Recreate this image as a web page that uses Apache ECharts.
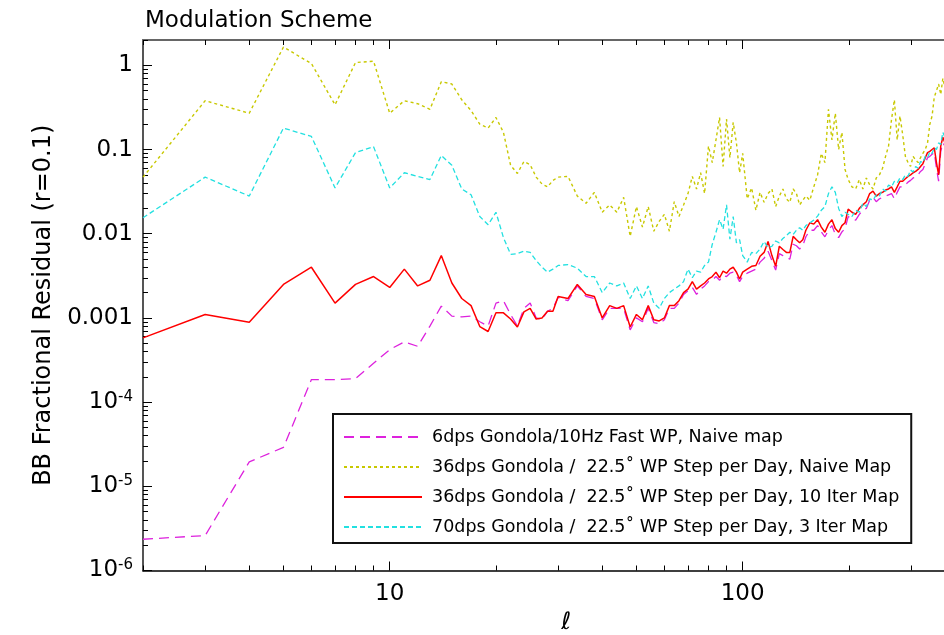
<!DOCTYPE html>
<html><head><meta charset="utf-8">
<script src="https://cdn.jsdelivr.net/npm/echarts@6/dist/echarts.min.js"></script>
<style>html,body{margin:0;padding:0;background:#fff}#c{width:944px;height:635px}</style>
</head><body><div id="c"></div>
<script>
// multipole ell grid
const ells = [2,3,4,5,6,7,8,9,10,11,12,13,14,15,16,17,18,19,20,21,22,23,24,25,26,27,28,29,30,
  32,34,36,38,40,42,44,46,48,50,52,54,56,58,60,
  62,64,66,68,70,72,74,76,78,80,82,84,86,88,90,92,94,96,98,100,
  103,106,109,112,115,118,121,124,127,130,133,136,139,142,145,148,151,
  155,159,163,167,171,175,179,183,187,191,195,199,
  204,209,214,219,224,229,234,239,244,249,254,259,264,269,274,279,284,289,294,299,
  304,309,314,319,324,329,334,339,344,349,354,359,364,369,374,379];

// 6dps Gondola / 10Hz Fast WP, Naive map
const fastNaive = [2.35e-6,2.6e-6,1.95e-5,2.9e-5,1.85e-4,1.85e-4,1.9e-4,2.9e-4,4.2e-4,5.2e-4,4.6e-4,8.0e-4,1.38e-3,1.05e-3,1.03e-3,1.05e-3,9e-4,8e-4,1.5e-3,1.6e-3,1.1e-3,8e-4,1.3e-3,1.5e-3,1.0e-3,9.6e-4,1.2e-3,1.3e-3,1.75e-3,
  0.0016,0.0024,0.0018,0.0017,0.00095,0.0013,0.0013,0.0013,0.00072,0.001,0.0009,0.0013,0.00088,0.00085,0.00095,
  0.0013,0.0013,0.0015,0.0019,0.0021,0.0023,0.0019,0.0022,0.0024,0.0027,0.0028,0.0031,0.0028,0.0032,0.0031,0.0034,0.0035,0.0032,0.0027,0.0031,
  0.0034,0.0036,0.0038,0.0046,0.0051,0.0062,0.0048,0.0037,0.0058,0.0055,0.0052,0.005,0.0075,0.0072,0.0066,0.0072,0.0092,
  0.011,0.011,0.0125,0.0105,0.0092,0.011,0.0125,0.0098,0.009,0.0105,0.0115,0.016,
  0.015,0.0145,0.017,0.019,0.02,0.025,0.027,0.024,0.026,0.027,0.028,0.029,0.03,0.026,0.031,0.036,0.036,0.038,0.041,0.043,
  0.046,0.047,0.05,0.055,0.058,0.068,0.08,0.083,0.088,0.092,0.06,0.042,0.095,0.12,0.11,0.13];

// 36dps Gondola / 22.5 WP Step per Day, Naive Map
const stepNaive = [0.047,0.38,0.27,1.65,1.05,0.34,1.08,1.12,0.27,0.38,0.35,0.30,0.64,0.60,0.39,0.29,0.20,0.18,0.24,0.16,0.065,0.052,0.072,0.066,0.047,0.039,0.036,0.043,0.047,
  0.048,0.028,0.023,0.031,0.018,0.022,0.018,0.027,0.0093,0.021,0.012,0.021,0.0107,0.014,0.017,
  0.0107,0.024,0.016,0.022,0.03,0.048,0.034,0.053,0.03,0.11,0.07,0.13,0.24,0.063,0.23,0.08,0.21,0.12,0.053,0.09,
  0.026,0.035,0.019,0.031,0.0236,0.03,0.034,0.021,0.028,0.034,0.026,0.0236,0.034,0.03,0.022,0.025,0.028,
  0.025,0.036,0.05,0.09,0.07,0.3,0.13,0.27,0.1,0.16,0.058,0.044,
  0.036,0.034,0.044,0.034,0.046,0.038,0.034,0.046,0.05,0.06,0.083,0.11,0.227,0.39,0.13,0.25,0.15,0.083,0.07,0.063,
  0.083,0.075,0.07,0.08,0.09,0.1,0.12,0.2,0.25,0.42,0.5,0.6,0.45,0.7,0.55,0.75];

// 36dps Gondola / 22.5 WP Step per Day, 10 Iter Map
const step10Iter = [0.00058,0.0011,0.00089,0.0025,0.004,0.0015,0.0025,0.0031,0.0023,0.0038,0.0024,0.0028,0.0055,0.0026,0.0017,0.0014,0.00079,0.00069,0.00115,0.00115,0.00097,0.00078,0.00118,0.0013,0.00097,0.001,0.0012,0.0012,0.0018,
  0.0017,0.0025,0.0019,0.0018,0.001,0.0014,0.0013,0.0014,0.00078,0.0011,0.00095,0.0014,0.00095,0.00092,0.001,
  0.0014,0.0014,0.0016,0.002,0.0022,0.0027,0.0022,0.0024,0.0026,0.0029,0.0031,0.0035,0.003,0.0036,0.0034,0.0038,0.004,0.0035,0.0029,0.0035,
  0.0038,0.0041,0.0042,0.0054,0.006,0.0081,0.0055,0.0041,0.0071,0.0065,0.006,0.006,0.0093,0.0085,0.0078,0.0085,0.011,
  0.0135,0.013,0.0147,0.012,0.0104,0.013,0.0147,0.0115,0.0104,0.0125,0.0135,0.0196,
  0.018,0.017,0.02,0.022,0.024,0.03,0.032,0.028,0.03,0.031,0.033,0.034,0.036,0.031,0.036,0.042,0.042,0.045,0.048,0.05,
  0.053,0.055,0.058,0.063,0.068,0.08,0.092,0.095,0.1,0.105,0.07,0.05,0.11,0.14,0.12,0.15];

// 70dps Gondola / 22.5 WP Step per Day, 3 Iter Map
const step3Iter = [0.0155,0.047,0.028,0.18,0.143,0.035,0.092,0.108,0.035,0.053,0.048,0.044,0.085,0.065,0.034,0.029,0.016,0.0128,0.018,0.009,0.0057,0.0058,0.0062,0.006,0.0048,0.004,0.0035,0.0038,0.0042,
  0.0043,0.0039,0.0031,0.0031,0.002,0.0026,0.0024,0.0026,0.0017,0.0024,0.0017,0.0024,0.0015,0.0013,0.0017,
  0.002,0.0022,0.0024,0.0027,0.0038,0.003,0.0036,0.0035,0.0042,0.0046,0.0075,0.0104,0.0147,0.0113,0.022,0.0086,0.016,0.0078,0.0085,0.0055,
  0.0046,0.006,0.0058,0.0066,0.0081,0.0068,0.0071,0.0082,0.0078,0.0088,0.0095,0.0104,0.0098,0.011,0.0118,0.011,0.0125,
  0.0135,0.0145,0.0162,0.019,0.021,0.03,0.036,0.031,0.02,0.016,0.018,0.017,
  0.016,0.019,0.018,0.023,0.021,0.026,0.025,0.029,0.028,0.034,0.032,0.038,0.036,0.042,0.04,0.046,0.044,0.05,0.048,0.057,
  0.054,0.063,0.06,0.072,0.07,0.083,0.08,0.095,0.09,0.105,0.1,0.12,0.115,0.16,0.14,0.17];

const seriesNames = [
  '6dps Gondola/10Hz Fast WP, Naive map',
  '36dps Gondola /  22.5\u02DA WP Step per Day, Naive Map',
  '36dps Gondola /  22.5\u02DA WP Step per Day, 10 Iter Map',
  '70dps Gondola /  22.5\u02DA WP Step per Day, 3 Iter Map'
];
const yMajorTicks = [1e-6,1e-5,1e-4,1e-3,1e-2,1e-1,1];
const xMajorTicks = [10,100];

const yMinorTicks = [];
for (let e = -6; e <= 0; e++) for (let k = 2; k <= 9; k++) { const v = +(k * Math.pow(10, e)).toPrecision(3); if (v <= 2) yMinorTicks.push(v); }
const xMinorTicks = [];
for (let e = 0; e <= 2; e++) for (let k = 1; k <= 9; k++) { const v = k * Math.pow(10, e); if (v >= 2 && v <= 500 && v !== 10 && v !== 100) xMinorTicks.push(v); }

const FONT = 'DejaVu Sans';
const XMIN = 2, XMAX = 500, YMIN = 1e-6, YMAX = 2;

function pairs(vals) { return ells.map((l, i) => [l, vals[i]]); }

function yLabel(v) {
  const e = Math.round(Math.log10(v));
  if (e >= -3) return String(+v.toPrecision(1));
  return '{b|10}{s|' + e + '}';
}

const chart = echarts.init(document.getElementById('c'), null, {renderer: 'canvas'});
const baseX = {type: 'log', min: XMIN, max: XMAX, logBase: 10, splitLine: {show: false}, axisLabel: {show: false}, axisLine: {show: false}, axisTick: {show: false}};
const baseY = {type: 'log', min: YMIN, max: YMAX, logBase: 10, splitLine: {show: false}, axisLabel: {show: false}, axisLine: {show: false}, axisTick: {show: false}};

chart.setOption({
  animation: false,
  backgroundColor: '#fff',
  textStyle: {fontFamily: FONT},
  title: {text: 'Modulation Scheme', left: 140, top: 5, textStyle: {fontSize: 23, fontWeight: 'normal', color: '#000', fontFamily: FONT}},
  grid: {left: 143, top: 40, width: 846.4, height: 530.5, containLabel: false, outerBoundsMode: 'none'},
  legend: {
    data: seriesNames, orient: 'vertical', left: 333, top: 414,
    padding: [14, 12, 7, 10], itemWidth: 78, itemHeight: 14, itemGap: 12,
    backgroundColor: '#fff', borderColor: '#111', borderWidth: 2, borderRadius: 0,
    selectedMode: false,
    itemStyle: {opacity: 0, color: 'rgba(0,0,0,0)', borderColor: 'rgba(0,0,0,0)', borderWidth: 0},
    textStyle: {fontSize: 17.5, color: '#000', fontFamily: FONT, padding: [0, 0, 0, 5]}
  },
  xAxis: [
    Object.assign({}, baseX, {position: 'bottom',
      axisLine: {show: true, lineStyle: {color: '#000', width: 1.5}},
      axisTick: {show: true, inside: true, length: 9, customValues: xMajorTicks, lineStyle: {color: '#000', width: 1}},
      axisLabel: {show: true, customValues: xMajorTicks, fontSize: 23, color: '#000', margin: 12, fontFamily: FONT},
      name: '\u2113', nameLocation: 'middle', nameGap: 40,
      nameTextStyle: {fontSize: 24, fontStyle: 'italic', color: '#000', fontFamily: FONT}}),
    Object.assign({}, baseX, {position: 'bottom',
      axisTick: {show: true, inside: true, length: 5, customValues: xMinorTicks, lineStyle: {color: '#000', width: 1}}}),
    Object.assign({}, baseX, {position: 'top',
      axisLine: {show: true, lineStyle: {color: '#666', width: 2}},
      axisTick: {show: true, inside: true, length: 9, customValues: xMajorTicks, lineStyle: {color: '#000', width: 1}}}),
    Object.assign({}, baseX, {position: 'top',
      axisTick: {show: true, inside: true, length: 5, customValues: xMinorTicks, lineStyle: {color: '#000', width: 1}}})
  ],
  yAxis: [
    Object.assign({}, baseY, {position: 'left',
      axisLine: {show: true, lineStyle: {color: '#555', width: 2}},
      axisTick: {show: true, inside: true, length: 9, customValues: yMajorTicks, lineStyle: {color: '#000', width: 1}},
      axisLabel: {show: true, customValues: yMajorTicks, fontSize: 23, color: '#000', margin: 10, fontFamily: FONT,
        formatter: yLabel,
        rich: {b: {fontSize: 23, fontFamily: FONT, color: '#000'}, s: {fontSize: 15, fontFamily: FONT, color: '#000', verticalAlign: 'top', padding: [0, 0, 10, 0]}}},
      name: 'BB Fractional Residual (r=0.1)', nameLocation: 'middle', nameGap: 86, nameRotate: 90,
      nameTextStyle: {fontSize: 24, color: '#000', fontFamily: FONT}}),
    Object.assign({}, baseY, {position: 'left',
      axisTick: {show: true, inside: true, length: 5, customValues: yMinorTicks, lineStyle: {color: '#000', width: 1}}})
  ],
  series: [
    {name: seriesNames[0], type: 'line', xAxisIndex: 0, yAxisIndex: 0, symbol: 'none', data: pairs(fastNaive),
      lineStyle: {color: '#dd22dd', width: 1.3, type: [10, 6]}, itemStyle: {color: '#dd22dd'}, z: 3},
    {name: seriesNames[1], type: 'line', xAxisIndex: 0, yAxisIndex: 0, symbol: 'none', data: pairs(stepNaive),
      lineStyle: {color: '#c8c800', width: 1.4, type: [3, 3]}, itemStyle: {color: '#c8c800'}, z: 2},
    {name: seriesNames[2], type: 'line', xAxisIndex: 0, yAxisIndex: 0, symbol: 'none', data: pairs(step10Iter),
      lineStyle: {color: '#ff0000', width: 1.5, type: 'solid'}, itemStyle: {color: '#ff0000'}, z: 4},
    {name: seriesNames[3], type: 'line', xAxisIndex: 0, yAxisIndex: 0, symbol: 'none', data: pairs(step3Iter),
      lineStyle: {color: '#22e0e0', width: 1.3, type: [5, 3]}, itemStyle: {color: '#22e0e0'}, z: 5}
  ]
});
</script></body></html>
